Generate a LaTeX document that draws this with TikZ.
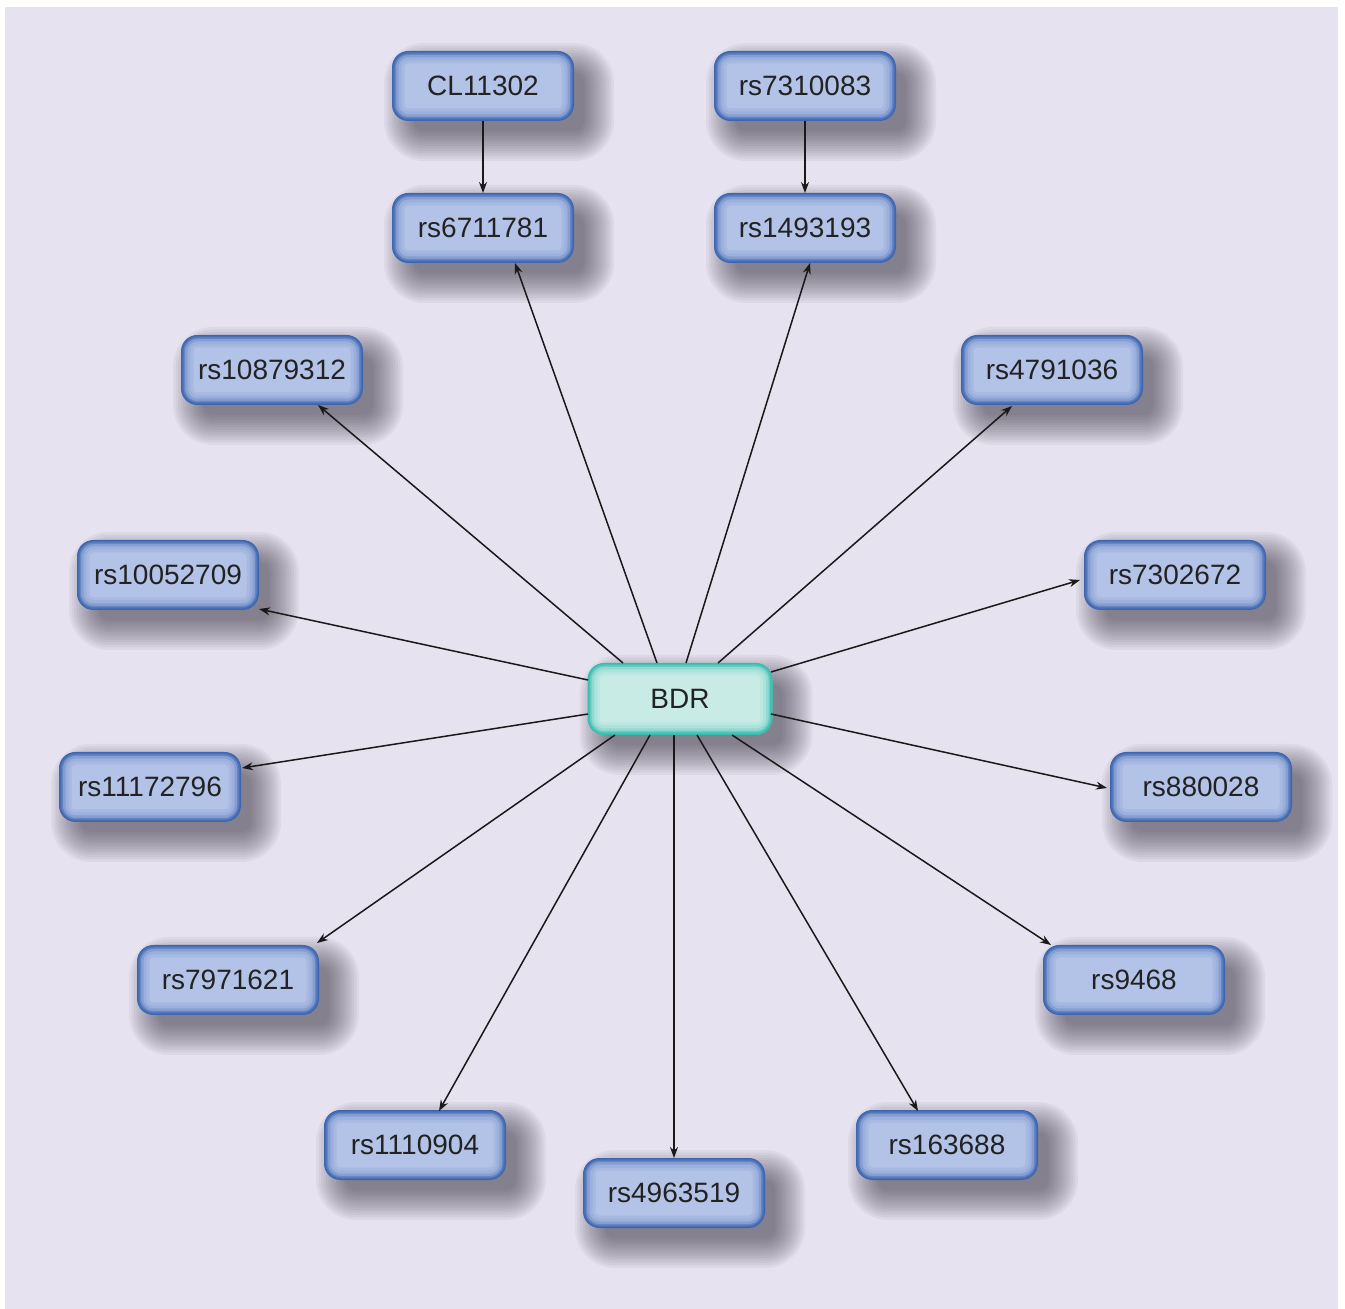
\documentclass[tikz,border=0pt]{standalone}
\usepackage{fontspec}
\setmainfont{Liberation Sans}
\usetikzlibrary{arrows.meta,calc}
\pgfdeclarelayer{bgl}
\pgfdeclarelayer{shl}
\pgfsetlayers{bgl,shl,main}
\definecolor{bg}{HTML}{E6E2F0}
\definecolor{boxfill}{HTML}{B3C2E7}
\definecolor{boxedge}{HTML}{3D66B0}
\definecolor{bdrfill}{HTML}{C9EBE6}
\definecolor{bdredge}{HTML}{36BDAE}
\definecolor{shadowc}{HTML}{2A2535}
\definecolor{txt}{HTML}{222222}
\newcommand\castshadow[1]{%
  \foreach \e in {-6,-3.5,...,24}{%
    \pgfmathsetmacro\rr{max(1,8+0.5*\e)}%
    \fill[shadowc, opacity=0.05, rounded corners=\rr pt]
      ($(#1.south west)+({16-(\e)},{16+\e})$) rectangle ($(#1.north east)+({16+\e},{16-(\e)})$);}}
\tikzset{
  basebox/.style={rounded corners=8pt, minimum width=90.5pt, minimum height=34.5pt,
    inner sep=0pt, text=txt, font=\fontsize{14}{16}\selectfont},
  snpbox/.style={basebox, fill=boxfill, draw=boxedge, line width=0.5pt,
    path picture={\foreach \w/\c in {12/10,9/20,6/38,3.5/65,2/90}{
      \draw[boxedge!\c!boxfill, line width=\w pt, rounded corners=8pt]
        (path picture bounding box.south west) rectangle (path picture bounding box.north east);}}},
  hubbox/.style={basebox, fill=bdrfill, draw=bdredge, line width=0.5pt, minimum width=92pt, minimum height=35.5pt,
    path picture={\foreach \w/\c in {12/10,9/20,6/38,3.5/65,2/90}{
      \draw[bdredge!\c!bdrfill, line width=\w pt, rounded corners=8pt]
        (path picture bounding box.south west) rectangle (path picture bounding box.north east);}}},
  link/.style={draw=black!90, line width=0.75pt, -{Stealth[length=5.5pt,width=4pt]}}
}
\begin{document}
\begin{tikzpicture}[x=0.5pt,y=-0.5pt]
\useasboundingbox (0,0) rectangle (1345,1309);
\begin{pgfonlayer}{bgl}
\fill[white] (0,0) rectangle (1345,1309);
\fill[bg] (5,7) rectangle (1338,1309);
\end{pgfonlayer}

\node[snpbox] (cl) at (483,86) {CL11302};
\node[snpbox] (r6711781) at (483,228) {rs6711781};
\node[snpbox] (r7310083) at (805,86) {rs7310083};
\node[snpbox] (r1493193) at (805,228) {rs1493193};
\node[snpbox] (r10879312) at (272,370) {rs10879312};
\node[snpbox] (r4791036) at (1052,370) {rs4791036};
\node[snpbox] (r10052709) at (168,575) {rs10052709};
\node[snpbox] (r7302672) at (1175,575) {rs7302672};
\node[snpbox] (r11172796) at (150,787) {rs11172796};
\node[snpbox] (r880028) at (1201,787) {rs880028};
\node[snpbox] (r7971621) at (228,980) {rs7971621};
\node[snpbox] (r9468) at (1134,980) {rs9468};
\node[snpbox] (r1110904) at (415,1145) {rs1110904};
\node[snpbox] (r163688) at (947,1145) {rs163688};
\node[snpbox] (r4963519) at (674,1193) {rs4963519};
\node[hubbox] (bdr) at (680,699) {BDR};

\begin{pgfonlayer}{shl}
\foreach \n in {cl,r6711781,r7310083,r1493193,r10879312,r4791036,r10052709,r7302672,
  r11172796,r880028,r7971621,r9468,r1110904,r163688,r4963519,bdr}{\castshadow{\n}}
\end{pgfonlayer}

\draw[link] (cl.south) -- (r6711781.north);
\draw[link] (r7310083.south) -- (r1493193.north);
\draw[link] ($(bdr)+(-23,-36)$) -- ($(r6711781)+(32,35)$);
\draw[link] ($(bdr)+(6,-36)$) -- ($(r1493193)+(5,35)$);
\draw[link] ($(bdr)+(-57,-36)$) -- ($(r10879312)+(46,35)$);
\draw[link] ($(bdr)+(38,-36)$) -- ($(r4791036)+(-40,36)$);
\draw[link] ($(bdr)+(-92,-19)$) -- ($(r10052709)+(91,34)$);
\draw[link] ($(bdr)+(91,-27)$) -- ($(r7302672)+(-95,5)$);
\draw[link] ($(bdr)+(-92,15)$) -- ($(r11172796)+(92,-19)$);
\draw[link] ($(bdr)+(91,15)$) -- ($(r880028)+(-94,1)$);
\draw[link] ($(bdr)+(-65,36)$) -- ($(r7971621)+(89,-37)$);
\draw[link] ($(bdr)+(52,36)$) -- ($(r9468)+(-83,-35)$);
\draw[link] ($(bdr)+(-30,36)$) -- ($(r1110904)+(24,-34)$);
\draw[link] ($(bdr)+(17,36)$) -- ($(r163688)+(-29,-34)$);
\draw[link] ($(bdr)+(-6,36)$) -- ($(r4963519)+(0,-35)$);
\end{tikzpicture}
\end{document}
